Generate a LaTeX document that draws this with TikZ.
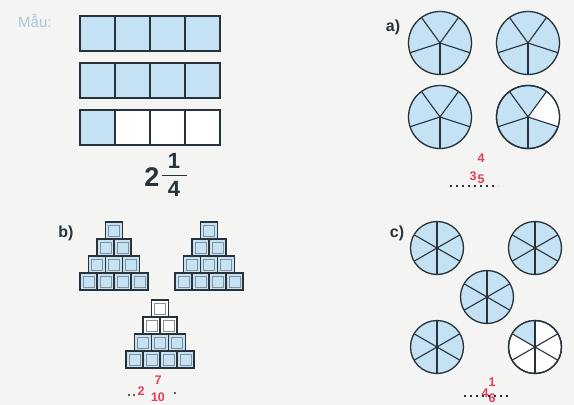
\documentclass[tikz,border=0pt]{standalone}
\usepackage{fontspec}
\setmainfont{Liberation Sans}
\usetikzlibrary{calc}
\definecolor{bg}{HTML}{F4F4F2}
\definecolor{lb}{HTML}{C4E2F3}
\definecolor{ink}{HTML}{27323A}
\definecolor{ans}{HTML}{E23D5B}
\definecolor{mau}{HTML}{A9C9DA}
\begin{document}
\begin{tikzpicture}[x=1pt,y=-1pt,
  cell/.style={draw=ink,line width=1.8pt,fill=lb},
  ecell/.style={draw=ink,line width=1.8pt,fill=white},
  pie/.style={draw=ink,line width=1.3pt,fill=lb},
  spoke/.style={draw=ink,line width=1.1pt},
  lbl/.style={text=ink,font=\fontsize{16}{16}\selectfont\bfseries,inner sep=0pt},
  ansnum/.style={text=ans,font=\fontsize{12.5}{12.5}\selectfont\bfseries,inner sep=0pt},
  dots/.style={draw=ink,line width=1.8pt,dash pattern=on 1.8pt off 4.2pt}]
\fill[bg] (0,0) rectangle (574,405);
\useasboundingbox (0,0) rectangle (574,405);
% Mau
\node[text=mau,font=\fontsize{15}{15}\selectfont,anchor=west,inner sep=0pt] (mau) at (18,21) {Mẫu:};
\foreach \r/\y in {0/16,1/63}{
  \foreach \i in {0,...,3}{
    \draw[cell] ({80+35*\i},\y) rectangle ({115+35*\i},{\y+35});
  }
}
\draw[cell] (80,110) rectangle (115,145);
\foreach \i in {1,2,3}{\draw[ecell] ({80+35*\i},110) rectangle ({115+35*\i},145);}
\node[text=ink,font=\fontsize{27}{27}\selectfont\bfseries,inner sep=0pt] (two) at (152,177) {2};
\node[text=ink,font=\fontsize{22}{22}\selectfont\bfseries,inner sep=0pt] (one) at (174,161) {1};
\node[text=ink,font=\fontsize{22}{22}\selectfont\bfseries,inner sep=0pt] (four) at (174,189) {4};
\draw[ink,line width=1.5pt] (162,175.5) -- (187,175.5);
% a)
\node[lbl] (la) at (393,27) {a)};
\newcommand{\fivepie}[3]{%
  \draw[pie] (#1,#2) circle (31.5);
  \ifnum#3=1 \fill[white] (#1,#2) -- ++(18:31.5) arc[start angle=18,end angle=-54,radius=31.5] -- cycle;
    \draw[ink,line width=1.3pt] (#1,#2) circle (31.5);\fi
  \foreach \a in {90,18,-54,-126,162}{\draw[spoke] (#1,#2) -- ++({\a}:31.5);}
  \fill[ink] (#1,#2) circle (1.5);}
\fivepie{440}{43}{0}
\fivepie{528}{43}{0}
\fivepie{440}{117}{0}
\fivepie{528}{117}{1}
\node[ansnum] (a3) at (473,176) {3};
\node[ansnum] (a4) at (481,158) {4};
\node[ansnum] (a5) at (481,179) {5};
\draw[dots] (450,186) -- (498,186);
% b)
\node[lbl] (lb) at (66,233) {b)};
\newcommand{\blk}[3]{%
  \draw[draw=ink,line width=1.3pt,fill=#3] (#1,#2) rectangle ++(17,17);
  \draw[draw=ink!55,line width=0.5pt] ($(#1,#2)+(3,3)$) rectangle ++(11,11);}
\newcommand{\pyr}[3]{%
  \foreach \r in {0,...,3}{
    \foreach \i in {0,...,\r}{
      \pgfmathsetmacro{\xx}{#1-(\r+1)*8.5+\i*17}
      \pgfmathsetmacro{\yy}{#2+17*\r}
      \ifnum\r<#3 \blk{\xx}{\yy}{white}\else \blk{\xx}{\yy}{lb}\fi
    }
  }}
\pyr{114}{222}{0}
\pyr{209}{222}{0}
\pyr{160}{300}{2}
\node[ansnum] (b2) at (141,391) {2};
\node[ansnum] (b7) at (158,380) {7};
\node[ansnum] (b10) at (158,397) {10};
\fill[ink] (129,395) circle (1.2) (134,395) circle (1.2) (175,393) circle (1.2);
% c)
\node[lbl] (lc) at (397,233) {c)};
\newcommand{\sixpie}[3]{%
  \ifnum#3=1
    \draw[draw=ink,line width=1.3pt,fill=white] (#1,#2) circle (26.5);
    \fill[lb] (#1,#2) -- ++(-90:26.5) arc[start angle=-90,end angle=-150,radius=26.5] -- cycle;
    \draw[ink,line width=1.3pt] (#1,#2) circle (26.5);
  \else \draw[pie] (#1,#2) circle (26.5);\fi
  \foreach \a in {90,30,-30}{\draw[spoke] ($(#1,#2)+({\a}:26.5)$) -- ($(#1,#2)+({\a+180}:26.5)$);}
  \fill[ink] (#1,#2) circle (1.5);}
\sixpie{437}{248}{0}
\sixpie{535}{248}{0}
\sixpie{487}{297}{0}
\sixpie{437}{347}{0}
\sixpie{535}{347}{1}
\node[ansnum] (c4) at (485,393) {4};
\node[ansnum] (c1) at (492,382) {1};
\node[ansnum] (c6) at (492,398) {6};
\draw[dots] (464,396) -- (511,396);
\end{tikzpicture}
\end{document}
